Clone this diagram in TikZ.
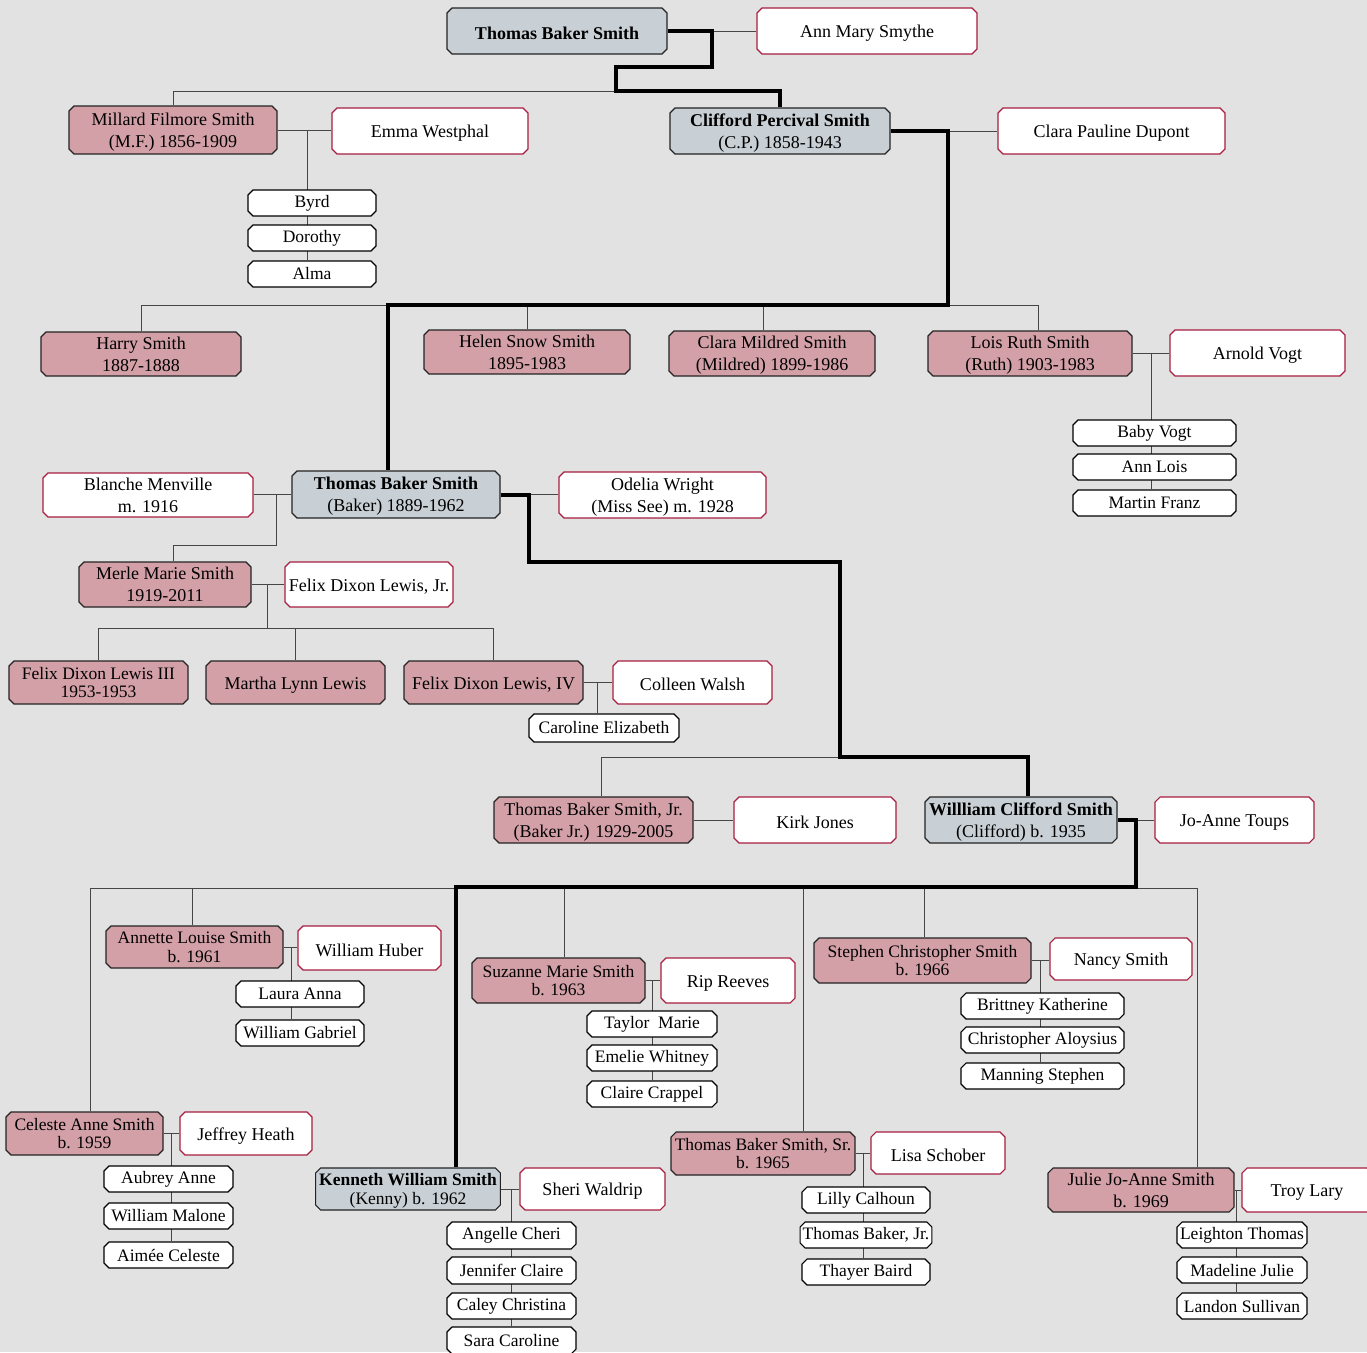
\documentclass[tikz,border=0pt]{standalone}
\usepackage{fontspec}
\setmainfont{Liberation Serif}
\usetikzlibrary{shapes.misc,calc}
\definecolor{bgc}{RGB}{226,226,226}
\definecolor{pinkc}{RGB}{212,160,168}
\definecolor{greyc}{RGB}{200,207,213}
\definecolor{spousec}{RGB}{168,30,64}
\definecolor{edgec}{RGB}{35,35,35}
\definecolor{linkc}{RGB}{70,70,70}
\pgfdeclarelayer{bgfill}
\pgfdeclarelayer{links}
\pgfsetlayers{bgfill,links,main}
\newcommand\famnode[7]{%
  \pgfmathsetmacro\famW{#5-#3}\pgfmathsetmacro\famH{#6-#4}%
  \pgfmathsetmacro\famX{(#3+#5)/2}\pgfmathsetmacro\famY{(#4+#6)/2}%
  \node[#1, minimum width=\famW pt, minimum height=\famH pt] (#2) at (\famX,\famY) {#7};}
\begin{document}
\begin{tikzpicture}[x=1pt,y=-1pt,
  basebox/.style={chamfered rectangle, chamfered rectangle xsep=2.5pt, chamfered rectangle ysep=2.5pt,
    draw=edgec, line width=1.1pt, inner sep=1pt, align=center},
  person/.style={basebox, font=\fontsize{18}{22}\selectfont,
    execute at begin node={\rule{0pt}{17pt}}},
  dbl/.style={text depth=0pt},
  tight/.style={dbl, font=\fontsize{17.5}{18.5}\selectfont,
    execute at begin node={\rule{0pt}{20.5pt}}},
  pinkbox/.style={person, fill=pinkc},
  greybox/.style={person, fill=greyc},
  spousebox/.style={person, fill=white, draw=spousec},
  kidbox/.style={basebox, fill=white, draw=black, inner sep=0pt,
    font=\fontsize{17.5}{21}\selectfont},
  sib/.style={draw=linkc, line width=1pt},
  mainline/.style={draw=black, line width=4pt, line join=miter}]
\useasboundingbox (0,0) rectangle (1367,1352);
\clip (0,0) rectangle (1367,1352);
\begin{pgfonlayer}{bgfill}
\fill[bgc] (0,0) rectangle (1367,1352);
\end{pgfonlayer}

% generation 1
\famnode{greybox}{tbs1}{447}{8}{667}{54}{\bfseries Thomas Baker Smith}
\famnode{spousebox}{ann}{757}{8}{977}{54}{Ann Mary Smythe}
% generation 2
\famnode{pinkbox,dbl}{millard}{69}{106}{277}{154}{Millard Filmore Smith\\(M.F.) 1856-1909}
\famnode{spousebox}{emma}{332}{108}{528}{154}{Emma Westphal}
\famnode{kidbox}{byrd}{248}{190}{376}{216}{Byrd}
\famnode{kidbox}{dorothy}{248}{225}{376}{251}{Dorothy}
\famnode{kidbox}{alma}{248}{261}{376}{287}{Alma}
\famnode{greybox,dbl}{clifford}{670}{108}{890}{154}{{\bfseries Clifford Percival Smith}\\(C.P.) 1858-1943}
\famnode{spousebox}{clara}{998}{108}{1225}{154}{Clara Pauline Dupont}
% generation 3
\famnode{pinkbox}{harry}{41}{332}{241}{376}{Harry Smith\\1887-1888}
\famnode{pinkbox}{helen}{424}{330}{630}{374}{Helen Snow Smith\\1895-1983}
\famnode{pinkbox,dbl}{mildred}{669}{331}{875}{376}{Clara Mildred Smith\\(Mildred) 1899-1986}
\famnode{pinkbox,dbl}{lois}{928}{331}{1132}{376}{Lois Ruth Smith\\(Ruth) 1903-1983}
\famnode{spousebox}{arnold}{1170}{330}{1345}{376}{Arnold Vogt}
\famnode{kidbox}{babyvogt}{1073}{420}{1236}{446}{Baby Vogt}
\famnode{kidbox}{annlois}{1073}{454}{1236}{480}{Ann Lois}
\famnode{kidbox}{martin}{1073}{490}{1236}{516}{Martin Franz}
\famnode{spousebox,dbl}{blanche}{43}{473}{253}{517}{Blanche Menville\\m. 1916}
\famnode{greybox,dbl}{tbs2}{292}{471}{500}{518}{{\bfseries Thomas Baker Smith}\\(Baker) 1889-1962}
\famnode{spousebox,dbl}{odelia}{559}{472}{766}{518}{Odelia Wright\\(Miss See) m. 1928}
% generation 4
\famnode{pinkbox,dbl}{merle}{79}{562}{251}{607}{Merle Marie Smith\\1919-2011}
\famnode{spousebox}{felixjr}{285}{562}{453}{607}{Felix Dixon Lewis, Jr.}
\famnode{pinkbox,tight}{felix3}{9}{661}{188}{704}{Felix Dixon Lewis III\\1953-1953}
\famnode{pinkbox}{martha}{206}{661}{385}{704}{Martha Lynn Lewis}
\famnode{pinkbox}{felix4}{404}{661}{583}{704}{Felix Dixon Lewis, IV}
\famnode{spousebox}{colleen}{613}{661}{772}{704}{Colleen Walsh}
\famnode{kidbox}{caroline}{529}{714}{679}{742}{Caroline Elizabeth}
\famnode{pinkbox,dbl}{tbsjr}{494}{797}{693}{843}{Thomas Baker Smith, Jr.\\(Baker Jr.) 1929-2005}
\famnode{spousebox}{kirk}{734}{797}{896}{843}{Kirk Jones}
\famnode{greybox,dbl}{wcs}{925}{797}{1117}{843}{{\bfseries Willliam Clifford Smith}\\(Clifford) b. 1935}
\famnode{spousebox}{joanne}{1155}{797}{1314}{843}{Jo-Anne Toups}
% generation 5
\famnode{pinkbox,tight}{annette}{106}{926}{283}{968}{Annette Louise Smith\\b. 1961}
\famnode{spousebox}{huber}{298}{926}{441}{970}{William Huber}
\famnode{kidbox}{laura}{236}{981}{364}{1007}{Laura Anna}
\famnode{kidbox}{gabriel}{236}{1020}{364}{1046}{William Gabriel}
\famnode{pinkbox,tight}{suzanne}{472}{958}{645}{1003}{Suzanne Marie Smith\\b. 1963}
\famnode{spousebox}{rip}{661}{958}{795}{1003}{Rip Reeves}
\famnode{kidbox}{taylor}{587}{1011}{717}{1037}{Taylor~~Marie}
\famnode{kidbox}{emelie}{587}{1045}{717}{1071}{Emelie Whitney}
\famnode{kidbox}{claire}{587}{1081}{717}{1107}{Claire Crappel}
\famnode{pinkbox,tight}{stephen}{814}{938}{1031}{983}{Stephen Christopher Smith\\b. 1966}
\famnode{spousebox}{nancy}{1050}{938}{1192}{980}{Nancy Smith}
\famnode{kidbox}{brittney}{961}{993}{1124}{1019}{Brittney Katherine}
\famnode{kidbox}{christopher}{961}{1027}{1124}{1053}{Christopher Aloysius}
\famnode{kidbox}{manning}{961}{1063}{1124}{1089}{Manning Stephen}
\famnode{pinkbox,tight}{celeste}{6}{1112}{163}{1155}{Celeste Anne Smith\\b. 1959}
\famnode{spousebox}{jeffrey}{180}{1112}{312}{1155}{Jeffrey Heath}
\famnode{kidbox}{aubrey}{104}{1166}{233}{1192}{Aubrey Anne}
\famnode{kidbox}{malone}{104}{1203}{233}{1229}{William Malone}
\famnode{kidbox}{aimee}{104}{1242}{233}{1268}{Aimée Celeste}
\famnode{pinkbox,tight}{tbssr}{671}{1132}{855}{1175}{Thomas Baker Smith, Sr.\\b. 1965}
\famnode{spousebox}{lisa}{871}{1132}{1005}{1174}{Lisa Schober}
\famnode{kidbox}{lilly}{802}{1187}{930}{1213}{Lilly Calhoun}
\famnode{kidbox}{tbjr}{802}{1222}{930}{1248}{Thomas Baker, Jr.}
\famnode{kidbox}{thayer}{802}{1259}{930}{1285}{Thayer Baird}
\famnode{greybox,tight}{kenneth}{316}{1168}{500}{1210}{{\bfseries Kenneth William Smith}\\(Kenny) b. 1962}
\famnode{spousebox}{sheri}{520}{1168}{665}{1210}{Sheri Waldrip}
\famnode{kidbox}{angelle}{447}{1222}{576}{1249}{Angelle Cheri}
\famnode{kidbox}{jennifer}{447}{1257}{576}{1284}{Jennifer Claire}
\famnode{kidbox}{caley}{447}{1293}{576}{1319}{Caley Christina}
\famnode{kidbox}{sara}{447}{1327}{576}{1354}{Sara Caroline}
\famnode{pinkbox}{julie}{1048}{1168}{1234}{1212}{Julie Jo-Anne Smith\\b. 1969}
\famnode{spousebox}{troy}{1242}{1168}{1372}{1212}{Troy Lary}
\famnode{kidbox}{leighton}{1177}{1222}{1307}{1248}{Leighton Thomas}
\famnode{kidbox}{madeline}{1177}{1257}{1307}{1283}{Madeline Julie}
\famnode{kidbox}{landon}{1177}{1293}{1307}{1319}{Landon Sullivan}

\begin{pgfonlayer}{links}
% couples
\draw[sib] (tbs1.east) -- (tbs1.east -| ann.west);
\draw[sib] (millard.east) -- (millard.east -| emma.west);
\draw[sib] (clifford.east) -- (clifford.east -| clara.west);
\draw[sib] (lois.east) -- (lois.east -| arnold.west);
\draw[sib] (tbs2.west) -- (tbs2.west -| blanche.east);
\draw[sib] (tbs2.east) -- (tbs2.east -| odelia.west);
\draw[sib] (merle.east) -- (merle.east -| felixjr.west);
\draw[sib] (felix4.east) -- (felix4.east -| colleen.west);
\draw[sib] (tbsjr.east) -- (tbsjr.east -| kirk.west);
\draw[sib] (wcs.east) -- (wcs.east -| joanne.west);
\draw[sib] (annette.east) -- (annette.east -| huber.west);
\draw[sib] (suzanne.east) -- (suzanne.east -| rip.west);
\draw[sib] (stephen.east) -- (stephen.east -| nancy.west);
\draw[sib] (celeste.east) -- (celeste.east -| jeffrey.west);
\draw[sib] (tbssr.east) -- (tbssr.east -| lisa.west);
\draw[sib] (kenneth.east) -- (kenneth.east -| sheri.west);
\draw[sib] (julie.east) -- (julie.east -| troy.west);
% children columns
\draw[sib] (millard.east -| 307,0) -- (alma.north -| 307,0);
\draw[sib] (lois.east -| 1151,0) -- (martin.north -| 1151,0);
\draw[sib] (felix4.east -| 597,0) -- (caroline.north -| 597,0);
\draw[sib] (annette.east -| 291,0) -- (gabriel.north -| 291,0);
\draw[sib] (suzanne.east -| 652,0) -- (claire.north -| 652,0);
\draw[sib] (stephen.east -| 1040,0) -- (manning.north -| 1040,0);
\draw[sib] (celeste.east -| 171,0) -- (aimee.north -| 171,0);
\draw[sib] (tbssr.east -| 863,0) -- (thayer.north -| 863,0);
\draw[sib] (kenneth.east -| 511,0) -- (sara.north -| 511,0);
\draw[sib] (julie.east -| 1236,0) -- (landon.north -| 1236,0);
% sibling bars
\draw[sib] (millard.north) |- (616,91);
\draw[sib] (harry.north) |- (1038,305) -- (lois.north -| 1038,0);
\draw[sib] (helen.north) -- (helen.north |- 0,305);
\draw[sib] (mildred.north -| 763,0) -- (763,305);
\draw[sib] (tbs2.west -| 276,0) -- (276,545) -| ([xshift=8]merle.north);
\draw[sib] (merle.east -| 267,0) -- (267,628);
\draw[sib] (felix3.north) |- (felix4.north |- 0,628) -- (felix4.north);
\draw[sib] (martha.north) -- (martha.north |- 0,628);
\draw[sib] ([xshift=8]tbsjr.north) |- (840,757);
\draw[sib] (celeste.north -| 90,0) |- (1197,888) -- (julie.north -| 1197,0);
\draw[sib] (annette.north -| 192,0) -- (192,888);
\draw[sib] (suzanne.north -| 564,0) -- (564,888);
\draw[sib] (tbssr.north -| 803,0) -- (803,888);
\draw[sib] (stephen.north -| 924,0) -- (924,888);
% main line of descent
\draw[mainline] (tbs1.east) -| (712,67) -| (616,91) -| (clifford.north);
\draw[mainline] (clifford.east) -| (948,305) -| ([xshift=-8]tbs2.north);
\draw[mainline] (tbs2.east) -| (529,562) -| (840,757) -| ([xshift=7]wcs.north);
\draw[mainline] (wcs.east) -| (1136,887) -| ([xshift=48]kenneth.north);
\end{pgfonlayer}
\end{tikzpicture}
\end{document}
